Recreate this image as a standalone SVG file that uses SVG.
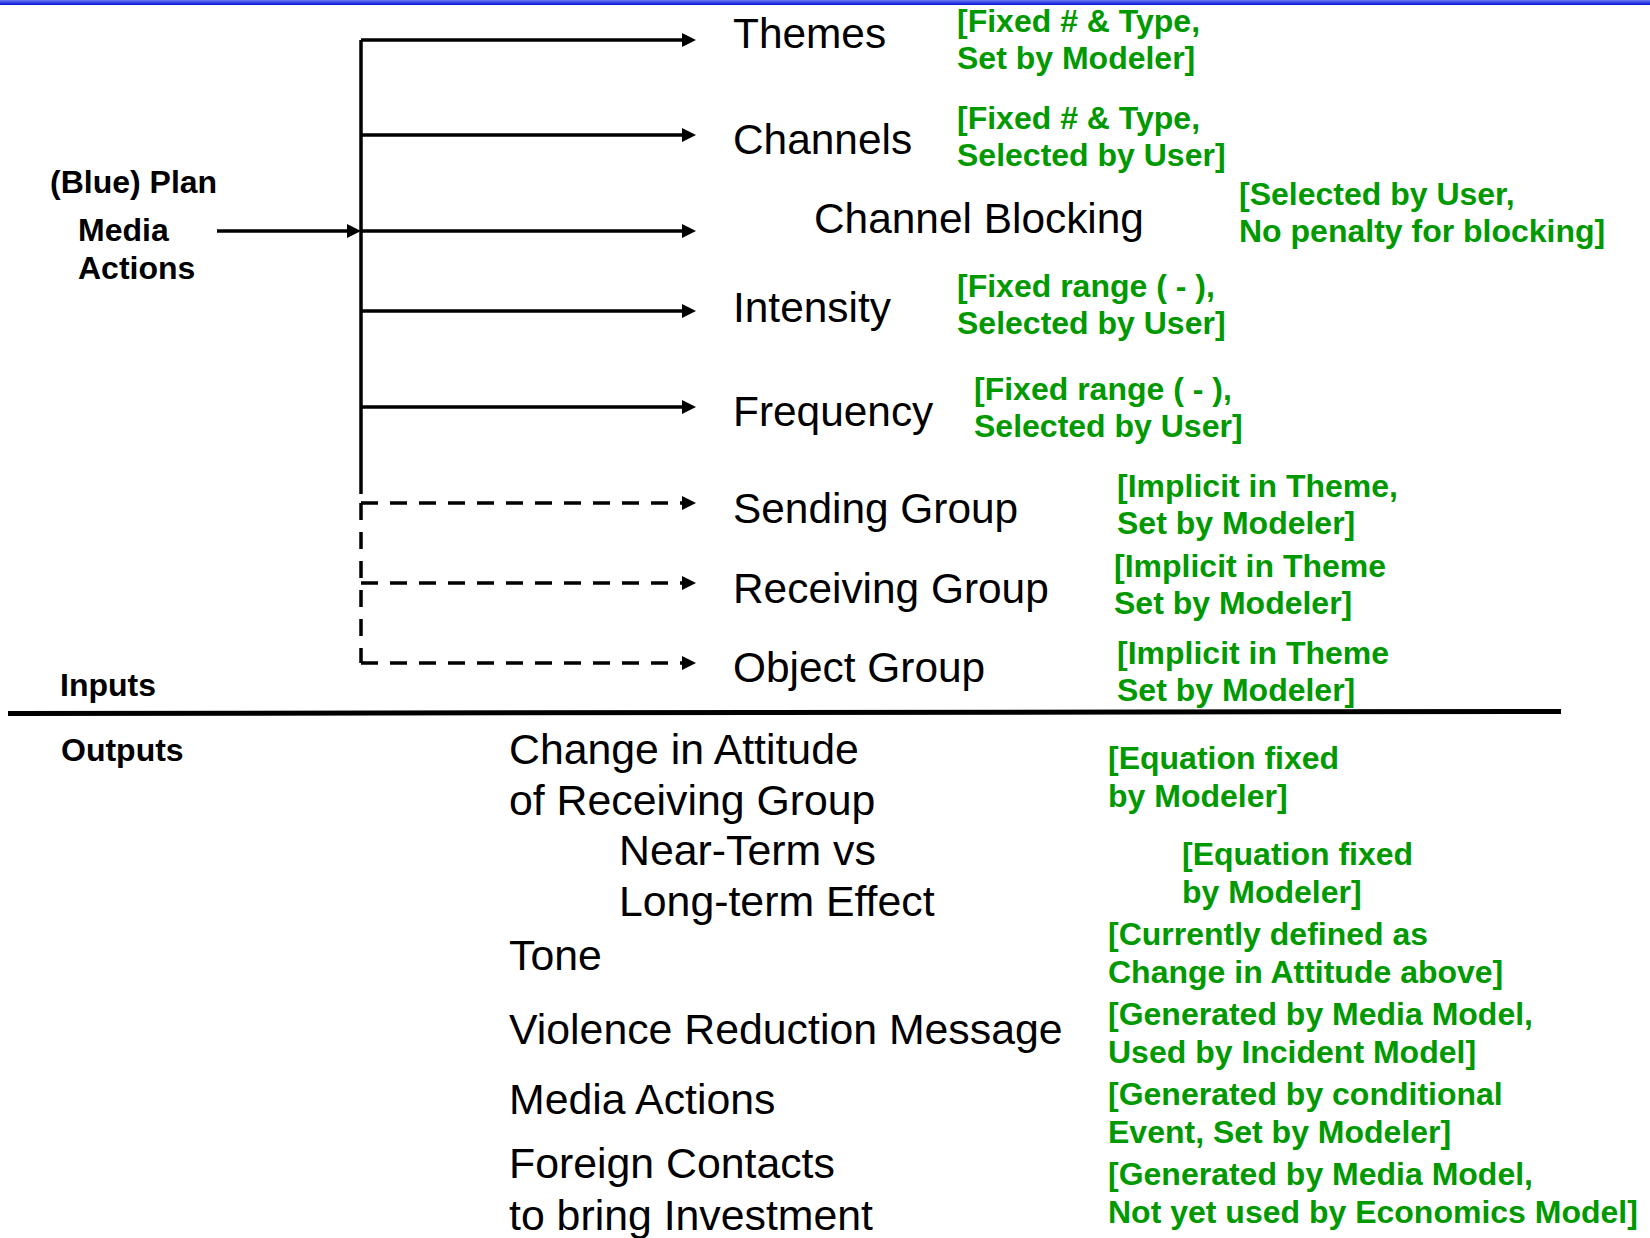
<svg xmlns="http://www.w3.org/2000/svg" width="1650" height="1238" viewBox="0 0 1650 1238">
  <defs>
    <linearGradient id="topbar" x1="0" y1="0" x2="0" y2="1">
      <stop offset="0" stop-color="#6a7cf2"/>
      <stop offset="1" stop-color="#0010d8"/>
    </linearGradient>
    <marker id="arrow" markerUnits="userSpaceOnUse" markerWidth="14" markerHeight="14" refX="4" refY="7" orient="auto">
      <path d="M0,0 L14,7 L0,14 z" fill="#000"/>
    </marker>
    <style>
      .lbl { font-family: "Liberation Sans", Arial, sans-serif; font-size: 42.4px; fill: #000; }
      .out { font-size: 42.8px; }
      .note { font-family: "Liberation Sans", Arial, sans-serif; font-size: 32px; font-weight: bold; fill: #009900; }
      .head { font-family: "Liberation Sans", Arial, sans-serif; font-size: 32px; font-weight: bold; fill: #000; }
      .solid { stroke: #000; stroke-width: 3.5; fill: none; }
      .dash { stroke: #000; stroke-width: 3.5; fill: none; stroke-dasharray: 17 12; }
      .arr { marker-end: url(#arrow); }
    </style>
  </defs>
  <rect x="0" y="0" width="1650" height="1238" fill="#fff"/>
  <rect x="0" y="0" width="1650" height="5" fill="url(#topbar)"/>

  <g id="connectors">
    <path class="solid" d="M361,40 V494"/>
    <path class="solid arr" d="M361,40 H686"/>
    <path class="solid arr" d="M361,135 H686"/>
    <path class="solid arr" d="M361,231 H686"/>
    <path class="solid arr" d="M361,311 H686"/>
    <path class="solid arr" d="M361,407 H686"/>
    <path class="solid arr" d="M217,231 H351"/>
    <path class="dash" d="M361,503 V663"/>
    <path class="dash arr" d="M361,503 H686"/>
    <path class="dash arr" d="M361,583 H686"/>
    <path class="dash arr" d="M361,663 H686"/>
    <path d="M8,713.5 L1561,711.5" stroke="#000" stroke-width="5" fill="none"/>
  </g>

  <g id="source">
    <text class="head" x="50" y="193">(Blue) Plan</text>
    <text class="head" x="78" y="241">Media</text>
    <text class="head" x="78" y="279">Actions</text>
  </g>
  <g id="inputs-label"><text class="head" x="60" y="696">Inputs</text></g>
  <g id="outputs-label"><text class="head" x="61" y="761">Outputs</text></g>

  <g id="themes">
    <text class="lbl" x="733" y="48">Themes</text>
    <text class="note"><tspan x="957" y="32">[Fixed # &amp; Type,</tspan><tspan x="957" y="69">Set by Modeler]</tspan></text>
  </g>
  <g id="channels">
    <text class="lbl" x="733" y="154">Channels</text>
    <text class="note"><tspan x="957" y="129">[Fixed # &amp; Type,</tspan><tspan x="957" y="166">Selected by User]</tspan></text>
  </g>
  <g id="channel-blocking">
    <text class="lbl" x="814" y="233">Channel Blocking</text>
    <text class="note"><tspan x="1239" y="205">[Selected by User,</tspan><tspan x="1239" y="242">No penalty for blocking]</tspan></text>
  </g>
  <g id="intensity">
    <text class="lbl" x="733" y="322">Intensity</text>
    <text class="note"><tspan x="957" y="297">[Fixed range ( - ),</tspan><tspan x="957" y="334">Selected by User]</tspan></text>
  </g>
  <g id="frequency">
    <text class="lbl" x="733" y="426">Frequency</text>
    <text class="note"><tspan x="974" y="400">[Fixed range ( - ),</tspan><tspan x="974" y="437">Selected by User]</tspan></text>
  </g>
  <g id="sending-group">
    <text class="lbl" x="733" y="523">Sending Group</text>
    <text class="note"><tspan x="1117" y="497">[Implicit in Theme,</tspan><tspan x="1117" y="534">Set by Modeler]</tspan></text>
  </g>
  <g id="receiving-group">
    <text class="lbl" x="733" y="603">Receiving Group</text>
    <text class="note"><tspan x="1114" y="577">[Implicit in Theme</tspan><tspan x="1114" y="614">Set by Modeler]</tspan></text>
  </g>
  <g id="object-group">
    <text class="lbl" x="733" y="682">Object Group</text>
    <text class="note"><tspan x="1117" y="664">[Implicit in Theme</tspan><tspan x="1117" y="701">Set by Modeler]</tspan></text>
  </g>

  <g id="change-in-attitude">
    <text class="lbl out"><tspan x="509" y="764">Change in Attitude</tspan><tspan x="509" y="815">of Receiving Group</tspan></text>
    <text class="note"><tspan x="1108" y="769">[Equation fixed</tspan><tspan x="1108" y="807">by Modeler]</tspan></text>
  </g>
  <g id="near-long-term">
    <text class="lbl out"><tspan x="619" y="865">Near-Term vs</tspan><tspan x="619" y="916">Long-term Effect</tspan></text>
    <text class="note"><tspan x="1182" y="865">[Equation fixed</tspan><tspan x="1182" y="903">by Modeler]</tspan></text>
  </g>
  <g id="tone">
    <text class="lbl out" x="509" y="970">Tone</text>
    <text class="note"><tspan x="1108" y="945">[Currently defined as</tspan><tspan x="1108" y="983">Change in Attitude above]</tspan></text>
  </g>
  <g id="violence-reduction">
    <text class="lbl out" x="509" y="1044">Violence Reduction Message</text>
    <text class="note"><tspan x="1108" y="1025">[Generated by Media Model,</tspan><tspan x="1108" y="1063">Used by Incident Model]</tspan></text>
  </g>
  <g id="media-actions-out">
    <text class="lbl out" x="509" y="1114">Media Actions</text>
    <text class="note"><tspan x="1108" y="1105">[Generated by conditional</tspan><tspan x="1108" y="1143">Event, Set by Modeler]</tspan></text>
  </g>
  <g id="foreign-contacts">
    <text class="lbl out"><tspan x="509" y="1178">Foreign Contacts</tspan><tspan x="509" y="1230">to bring Investment</tspan></text>
    <text class="note"><tspan x="1108" y="1185">[Generated by Media Model,</tspan><tspan x="1108" y="1223">Not yet used by Economics Model]</tspan></text>
  </g>
</svg>
